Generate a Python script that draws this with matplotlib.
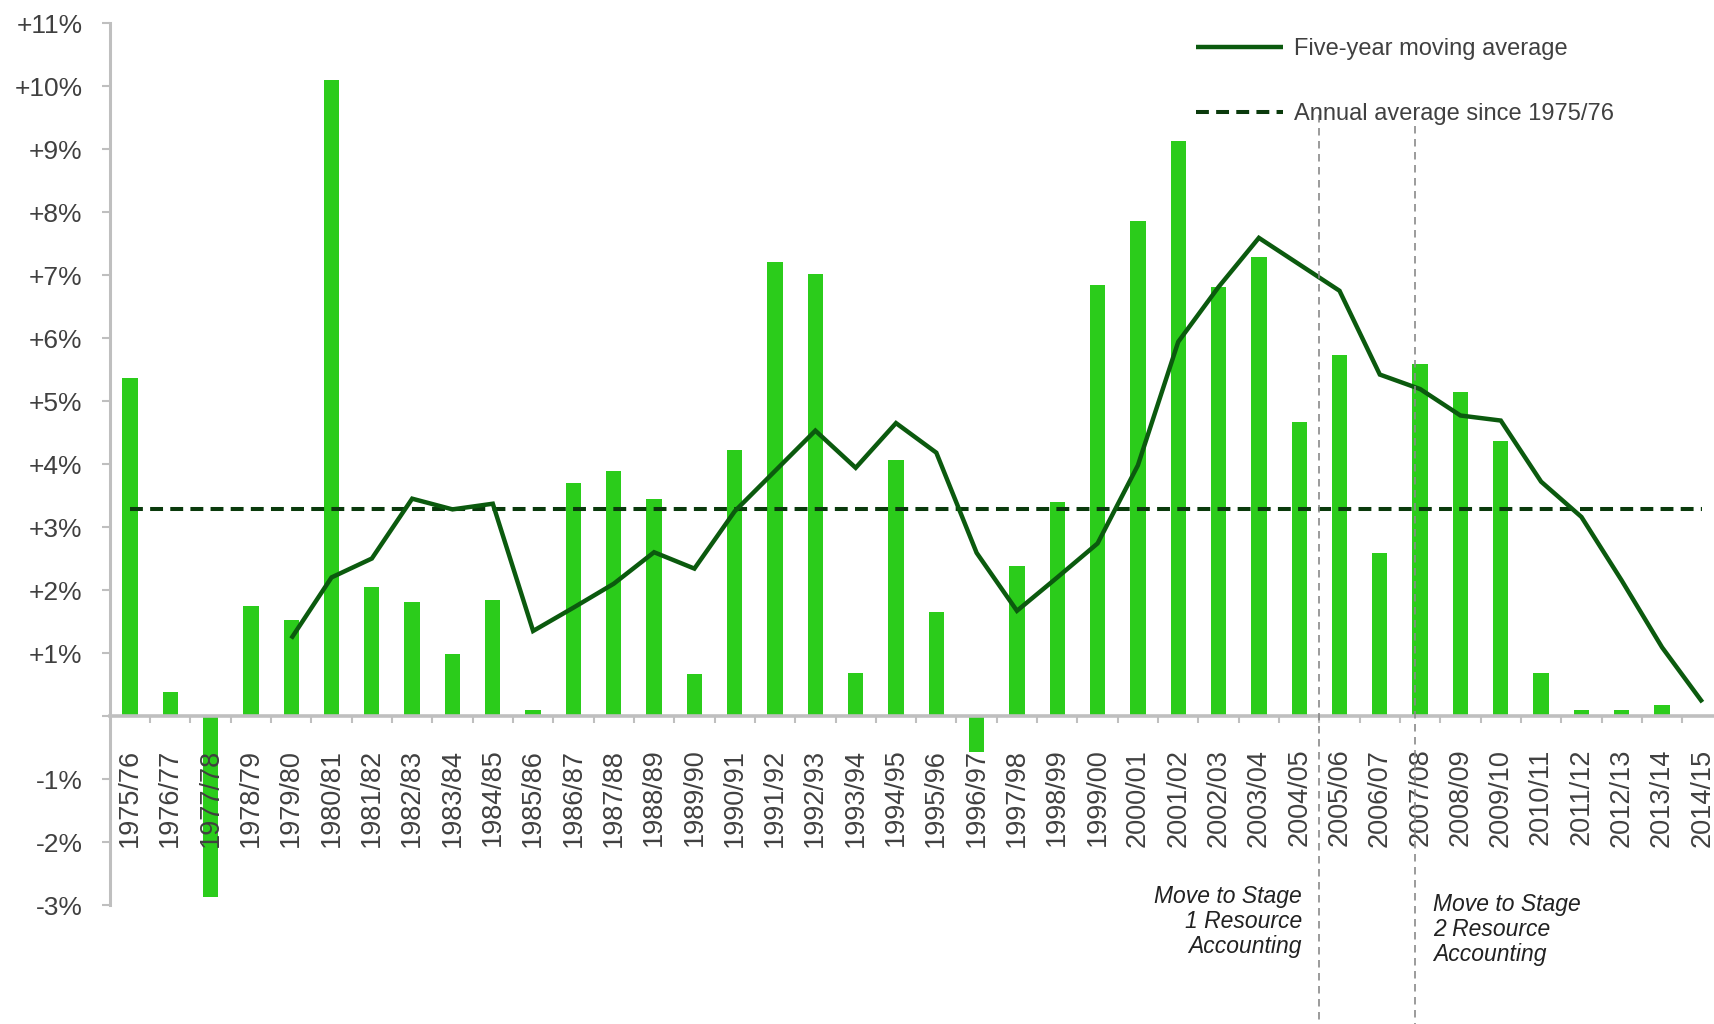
import numpy as np
import matplotlib
matplotlib.use("Agg")
import matplotlib.pyplot as plt
from matplotlib.ticker import FixedLocator

plt.rcParams['font.family'] = ['Liberation Sans', 'DejaVu Sans']

# ---------------- data ----------------
categories = ["1975/76", "1976/77", "1977/78", "1978/79", "1979/80", "1980/81", "1981/82",
              "1982/83", "1983/84", "1984/85", "1985/86", "1986/87", "1987/88", "1988/89",
              "1989/90", "1990/91", "1991/92", "1992/93", "1993/94", "1994/95", "1995/96",
              "1996/97", "1997/98", "1998/99", "1999/00", "2000/01", "2001/02", "2002/03",
              "2003/04", "2004/05", "2005/06", "2006/07", "2007/08", "2008/09", "2009/10",
              "2010/11", "2011/12", "2012/13", "2013/14", "2014/15"]

annual_growth = [5.36, 0.38, -2.88, 1.74, 1.53, 10.09, 2.05, 1.81, 0.99, 1.84,
                 0.09, 3.70, 3.89, 3.44, 0.66, 4.22, 7.20, 7.01, 0.69, 4.06,
                 1.65, -0.57, 2.38, 3.40, 6.84, 7.86, 9.13, 6.81, 7.29, 4.67,
                 5.73, 2.59, 5.59, 5.14, 4.36, 0.69, 0.09, 0.09, 0.17, 0.0]

# five-year moving average, starting at 1979/80
ma_categories = categories[4:]
moving_avg = [1.23, 2.20, 2.50, 3.45, 3.28, 3.37, 1.35, 1.72, 2.10, 2.60,
              2.34, 3.25, 3.89, 4.53, 3.94, 4.65, 4.18, 2.59, 1.67, 2.20,
              2.74, 3.98, 5.94, 6.81, 7.59, 7.17, 6.75, 5.42, 5.19, 4.77,
              4.69, 3.72, 3.16, 2.15, 1.09, 0.22]

annual_avg = 3.29

y_ticks = [-3, -2, -1, 0, 1, 2, 3, 4, 5, 6, 7, 8, 9, 10, 11]
y_tick_labels = ["-3%", "-2%", "-1%", "", "+1%", "+2%", "+3%", "+4%", "+5%",
                 "+6%", "+7%", "+8%", "+9%", "+10%", "+11%"]

legend_labels = ["Five-year moving average", "Annual average since 1975/76"]

stage_lines_x = [29.5, 31.88]
stage_lines_top = [9.54, 9.37]
stage_texts = ["Move to Stage\n1 Resource\nAccounting", "Move to Stage\n2 Resource\nAccounting"]

# ---------------- style ----------------
BAR = '#2BCC1B'
MA_COL = '#0B5A0E'
AVG_COL = '#0A3A0C'
AXIS_GRAY = '#BFBFBF'
TEXT = '#404040'

fig = plt.figure(figsize=(17.15, 10.24), dpi=100)
ax = fig.add_axes([0.064, 0.1162, 0.9404, 0.8613])
ax.set_axisbelow(False)

x = np.arange(len(categories))
ma_x = np.array([categories.index(c) for c in ma_categories])

ax.bar(x, annual_growth, width=0.38, color=BAR, zorder=2)
ma_line, = ax.plot(ma_x, moving_avg, color=MA_COL, lw=3.2, zorder=4,
                   solid_joinstyle='miter', solid_capstyle='butt')
avg_line, = ax.plot([x[0], x[-1]], [annual_avg, annual_avg], color=AVG_COL, lw=2.9,
                    dashes=(3.2, 1.8), dash_capstyle='butt', zorder=3)

ax.set_xlim(-0.5, len(categories) - 0.5)
ax.set_ylim(-3, 11)

# spines
for s in ['top', 'right']:
    ax.spines[s].set_visible(False)
ax.spines['bottom'].set_position(('data', 0))
ax.spines['bottom'].set_color(AXIS_GRAY)
ax.spines['bottom'].set_linewidth(2.6)
ax.spines['bottom'].set_zorder(2.6)
ax.spines['left'].set_color(AXIS_GRAY)
ax.spines['left'].set_linewidth(2.2)

# x ticks
ax.set_xticks(x)
ax.set_xticklabels(categories, rotation=90, fontsize=19.5, color=TEXT)
ax.tick_params(axis='x', which='major', length=0, pad=23.5)
ax.xaxis.set_minor_locator(FixedLocator(x[:-1] + 0.5))
ax.tick_params(axis='x', which='minor', length=5, width=1.5, color=AXIS_GRAY, direction='out')
for lab in ax.get_xticklabels():
    lab.set_verticalalignment('top')

# y ticks
ax.set_yticks(y_ticks)
ax.set_yticklabels(y_tick_labels, fontsize=19, color=TEXT)
ax.tick_params(axis='y', which='major', length=5.5, width=1.5, color=AXIS_GRAY, pad=14)

# stage lines
for xs, yt in zip(stage_lines_x, stage_lines_top):
    ax.plot([xs, xs], [yt, -5.5], color='#8A8A8A', lw=1.2, dashes=(4.5, 3.3),
            clip_on=False, zorder=5)

ax.text(29.07, -3.26, stage_texts[0], ha='right', va='center', fontsize=16.5,
        style='italic', color='#222222', linespacing=1.1, clip_on=False)
ax.text(32.32, -3.39, stage_texts[1], ha='left', va='center', fontsize=16.5,
        style='italic', color='#222222', linespacing=1.1, clip_on=False)

# legend
leg = fig.legend([ma_line, avg_line], legend_labels, loc='upper left',
                 bbox_to_anchor=(0.6974, 0.9626), frameon=False, fontsize=17,
                 handlelength=3.7, handletextpad=0.45, labelspacing=1.8,
                 borderpad=0, borderaxespad=0)
for t in leg.get_texts():
    t.set_color(TEXT)

fig.savefig('out.png', dpi=100)
